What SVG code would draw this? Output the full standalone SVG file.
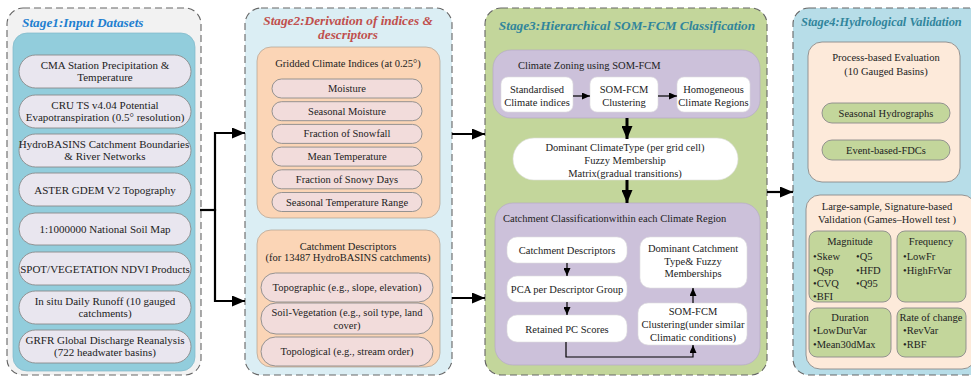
<svg xmlns="http://www.w3.org/2000/svg" width="971" height="376" viewBox="0 0 971 376">
<defs>
<marker id="ah" markerUnits="userSpaceOnUse" markerWidth="13" markerHeight="11" refX="13" refY="5.5" orient="auto"><path d="M0,0 L13,5.5 L0,11 z" fill="#000"/></marker>
<marker id="as" markerUnits="userSpaceOnUse" markerWidth="8" markerHeight="7" refX="8" refY="3.5" orient="auto"><path d="M0,0 L8,3.5 L0,7 z" fill="#000"/></marker>
<style>
text{font-family:"Liberation Serif","Times New Roman",serif;fill:#222;font-size:11px}
.t{font-weight:bold;font-style:italic;font-size:13.3px}
.c{text-anchor:middle}
.s{font-size:10.5px}
.outer{stroke:#666;stroke-width:1.1;stroke-dasharray:7 4}
.p1{fill:#e9e6ef;stroke:#8a8a8a;stroke-width:0.9}
.p2{fill:#f2dcdb;stroke:#8a8a8a;stroke-width:0.9}
.peach{fill:#fbd5b6;stroke:#b0a090;stroke-width:0.7}
.lav{fill:#ccc1da;stroke:#b5aac4;stroke-width:0.7}
.wb{fill:#fff;stroke:#ddd;stroke-width:0.6}
.lp{fill:#fdeada;stroke:#8a8a8a;stroke-width:0.9}
.gr{fill:#c3d69b;stroke:#8a8a8a;stroke-width:0.9}
.k{fill:none;stroke:#000;stroke-width:2.2}
.k3{fill:none;stroke:#000;stroke-width:3}
.k1{fill:none;stroke:#000;stroke-width:1.2}
</style>
</defs>

<g id="stage1">
<rect class="outer" x="7" y="8" width="194" height="367" rx="16" fill="#f2f2f2"/>
<text class="t" x="22" y="27" fill="#1f7fd0" style="fill:#1f7fd0">Stage1:Input Datasets</text>
<rect x="13" y="33" width="182" height="338" rx="14" fill="#92cddc" stroke="#7fb8c8" stroke-width="0.7"/>
</g>
<g id="s1-cma"><rect class="p1" x="19" y="55" width="172" height="33" rx="16.5"/><text class="c" x="105" y="69">CMA Station Precipitation &amp;</text><text class="c" x="105" y="81">Temperature</text></g>
<g id="s1-cru"><rect class="p1" x="19" y="95" width="172" height="33" rx="16.5"/><text class="c" x="105" y="109">CRU TS v4.04 Potential</text><text class="c" x="105" y="121">Evapotranspiration (0.5° resolution)</text></g>
<g id="s1-hydrobasins"><rect class="p1" x="19" y="134" width="172" height="33" rx="16.5"/><text class="c" x="104" y="148">HydroBASINS Catchment Boundaries</text><text class="c" x="105" y="160">&amp; River Networks</text></g>
<g id="s1-aster"><rect class="p1" x="19" y="173" width="172" height="33" rx="16.5"/><text class="c" x="105" y="193.5">ASTER GDEM V2 Topography</text></g>
<g id="s1-soil"><rect class="p1" x="19" y="213" width="172" height="32" rx="16"/><text class="c" x="105" y="233">1:1000000 National Soil Map</text></g>
<g id="s1-spot"><rect class="p1" x="19" y="252" width="172" height="33" rx="16.5"/><text class="c" x="105" y="272.5">SPOT/VEGETATION NDVI Products</text></g>
<g id="s1-runoff"><rect class="p1" x="19" y="291" width="172" height="33" rx="16.5"/><text class="c" x="105" y="305">In situ Daily Runoff (10 gauged</text><text class="c" x="105" y="317">catchments)</text></g>
<g id="s1-grfr"><rect class="p1" x="19" y="330" width="172" height="33" rx="16.5"/><text class="c" x="105" y="344">GRFR Global Discharge Reanalysis</text><text class="c" x="105" y="356">(722 headwater basins)</text></g>

<g id="stage2">
<rect class="outer" x="245" y="8" width="207" height="367" rx="16" fill="#dbeef4"/>
<text class="t c" x="348" y="25" style="fill:#c0504d">Stage2:Derivation of indices &amp;</text>
<text class="t c" x="348" y="39" style="fill:#c0504d">descriptors</text>
</g>
<g id="s2-gridded">
<rect class="peach" x="257" y="47" width="183" height="171" rx="14"/>
<text class="c s" x="348" y="67">Gridded Climate Indices (at 0.25°)</text>
</g>
<g id="s2-moisture"><rect class="p2" x="272" y="79" width="150" height="19" rx="9.5"/><text class="c s" x="347" y="92">Moisture</text></g>
<g id="s2-seasonal-moisture"><rect class="p2" x="272" y="101.7" width="150" height="19" rx="9.5"/><text class="c s" x="347" y="114.7">Seasonal Moisture</text></g>
<g id="s2-snowfall"><rect class="p2" x="272" y="124.4" width="150" height="19" rx="9.5"/><text class="c s" x="347" y="137.4">Fraction of Snowfall</text></g>
<g id="s2-meantemp"><rect class="p2" x="272" y="147.1" width="150" height="19" rx="9.5"/><text class="c s" x="347" y="160.1">Mean Temperature</text></g>
<g id="s2-snowydays"><rect class="p2" x="272" y="169.8" width="150" height="19" rx="9.5"/><text class="c s" x="347" y="182.8">Fraction of Snowy Days</text></g>
<g id="s2-temprange"><rect class="p2" x="272" y="192.5" width="150" height="19" rx="9.5"/><text class="c s" x="347" y="205.5">Seasonal Temperature Range</text></g>
<g id="s2-catchment">
<rect class="peach" x="257" y="230" width="183" height="137" rx="14"/>
<text class="c s" x="348" y="250">Catchment Descriptors</text>
<text class="c s" x="348" y="261">(for 13487 HydroBASINS catchments)</text>
</g>
<g id="s2-topographic"><rect class="p2" x="261" y="273" width="172" height="29" rx="14.5"/><text class="c s" x="347" y="291">Topographic (e.g., slope, elevation)</text></g>
<g id="s2-soilveg"><rect class="p2" x="261" y="303" width="172" height="31" rx="15"/><text class="c s" x="347" y="316">Soil-Vegetation (e.g., soil type, land</text><text class="c s" x="347" y="329">cover)</text></g>
<g id="s2-topological"><rect class="p2" x="261" y="337" width="172" height="29" rx="14.5"/><text class="c s" x="347" y="355">Topological (e.g., stream order)</text></g>

<g id="stage3">
<rect class="outer" x="485" y="8" width="282" height="367" rx="16" fill="#c3d69b"/>
<text class="t c" x="627" y="30" style="fill:#31859c">Stage3:Hierarchical SOM-FCM Classification</text>
</g>
<g id="s3-zoning">
<rect class="lav" x="493" y="50" width="267" height="68" rx="18"/>
<text class="s" x="518" y="69">Climate Zoning using SOM-FCM</text>
</g>
<g id="s3-standardised"><rect class="wb" x="501" y="77" width="72" height="35" rx="7"/><text class="c s" x="537" y="93">Standardised</text><text class="c s" x="537" y="105.5">Climate indices</text></g>
<g id="s3-somfcm1"><rect class="wb" x="590" y="77" width="68" height="35" rx="7"/><text class="c s" x="624" y="93">SOM-FCM</text><text class="c s" x="624" y="105.5">Clustering</text></g>
<g id="s3-homogeneous"><rect class="wb" x="677" y="77" width="73" height="35" rx="7"/><text class="c s" x="713.5" y="93">Homogeneous</text><text class="c s" x="713.5" y="105.5">Climate Regions</text></g>
<g id="s3-dominant-climate"><rect class="wb" x="513" y="138" width="225" height="42" rx="21"/>
<text class="c s" x="625" y="150.5">Dominant ClimateType (per grid cell)</text>
<text class="c s" x="625" y="163.5">Fuzzy Membership</text>
<text class="c s" x="625" y="176.5">Matrix(gradual transitions)</text></g>
<g id="s3-catchclass">
<rect class="lav" x="495" y="203" width="265" height="162" rx="18"/>
<text class="s" x="503" y="221.5">Catchment Classificationwithin each Climate Region</text>
</g>
<g id="s3-descriptors"><rect class="wb" x="507" y="237" width="120" height="26" rx="10"/><text class="c s" x="567" y="254">Catchment Descriptors</text></g>
<g id="s3-pca"><rect class="wb" x="507" y="276" width="120" height="26" rx="10"/><text class="c s" x="567" y="293">PCA per Descriptor Group</text></g>
<g id="s3-retained"><rect class="wb" x="507" y="315" width="120" height="27" rx="10"/><text class="c s" x="567" y="332.5">Retained PC Scores</text></g>
<g id="s3-dominant-catch"><rect class="wb" x="640" y="237" width="107" height="51" rx="10"/>
<text class="c s" x="693" y="252">Dominant Catchment</text>
<text class="c s" x="693" y="264.5">Type&amp; Fuzzy</text>
<text class="c s" x="693" y="277">Memberships</text></g>
<g id="s3-somfcm2"><rect class="wb" x="638" y="303" width="109" height="42" rx="10"/>
<text class="c s" x="693" y="315">SOM-FCM</text>
<text class="c s" x="693" y="328">Clustering(under similar</text>
<text class="c s" x="693" y="341">Climatic conditions)</text></g>

<g id="stage4">
<rect class="outer" x="793" y="8" width="200" height="367" rx="16" fill="#b7dde8"/>
<text class="t" x="801" y="26" style="fill:#31859c;font-size:12.4px">Stage4:Hydrological Validation</text>
</g>
<g id="s4-process">
<rect class="lp" x="808" y="42" width="152" height="140" rx="14"/>
<text class="c s" x="886" y="61">Process-based Evaluation</text>
<text class="c s" x="886" y="75">(10 Gauged Basins)</text>
</g>
<g id="s4-hydrographs"><rect class="gr" x="822" y="103" width="128" height="20" rx="10"/><text class="c s" x="886" y="117">Seasonal Hydrographs</text></g>
<g id="s4-fdcs"><rect class="gr" x="822" y="140" width="128" height="20" rx="10"/><text class="c s" x="886" y="154">Event-based-FDCs</text></g>
<g id="s4-largesample">
<rect class="lp" x="806" y="195" width="170" height="174" rx="14"/>
<text class="c s" x="887" y="209.5">Large-sample, Signature-based</text>
<text class="c s" x="887" y="222.5">Validation (Games–Howell test )</text>
</g>
<g id="s4-magnitude"><rect class="gr" x="809" y="231" width="82" height="71" rx="8"/>
<text class="c s" x="850" y="244.5">Magnitude</text>
<text class="s" x="813" y="260">•Skew</text><text class="s" x="856" y="260">•Q5</text>
<text class="s" x="813" y="273.5">•Qsp</text><text class="s" x="856" y="273.5">•HFD</text>
<text class="s" x="813" y="286.5">•CVQ</text><text class="s" x="856" y="286.5">•Q95</text>
<text class="s" x="813" y="299.5">•BFI</text></g>
<g id="s4-frequency"><rect class="gr" x="897" y="231" width="69" height="71" rx="8"/>
<text class="c s" x="931" y="244.5">Frequency</text>
<text class="s" x="903" y="260">•LowFr</text>
<text class="s" x="903" y="273.5">•HighFrVar</text></g>
<g id="s4-duration"><rect class="gr" x="809" y="308" width="82" height="49" rx="8"/>
<text class="c s" x="850" y="321">Duration</text>
<text class="s" x="813" y="334">•LowDurVar</text>
<text class="s" x="813" y="348">•Mean30dMax</text></g>
<g id="s4-rate"><rect class="gr" x="897" y="308" width="69" height="49" rx="8"/>
<text class="c s" x="931" y="321">Rate of change</text>
<text class="s" x="903" y="334">•RevVar</text>
<text class="s" x="903" y="348">•RBF</text></g>

<g id="connectors">
<path class="k" d="M200,210 H215"/>
<path class="k" d="M215,211 V133 H245" marker-end="url(#ah)"/>
<path class="k" d="M215,209 V301 H245" marker-end="url(#ah)"/>
<path class="k" d="M452,134 H485" marker-end="url(#ah)"/>
<path class="k" d="M452,298 H485" marker-end="url(#ah)"/>
<path class="k" d="M767,192 H793" marker-end="url(#ah)"/>
<path class="k3" d="M627,118 V139" marker-end="url(#ah)"/>
<path class="k3" d="M627,180 V203" marker-end="url(#ah)"/>
<path class="k1" d="M573,96 H590" marker-end="url(#as)"/>
<path class="k1" d="M658,96 H677" marker-end="url(#as)"/>
<path class="k1" d="M567,263 V276" marker-end="url(#as)"/>
<path class="k1" d="M567,302 V315" marker-end="url(#as)"/>
<path class="k1" d="M693,303 V288" marker-end="url(#as)"/>
<path class="k1" d="M566,342 V357 H693 V345" marker-end="url(#as)"/>
</g>
</svg>
